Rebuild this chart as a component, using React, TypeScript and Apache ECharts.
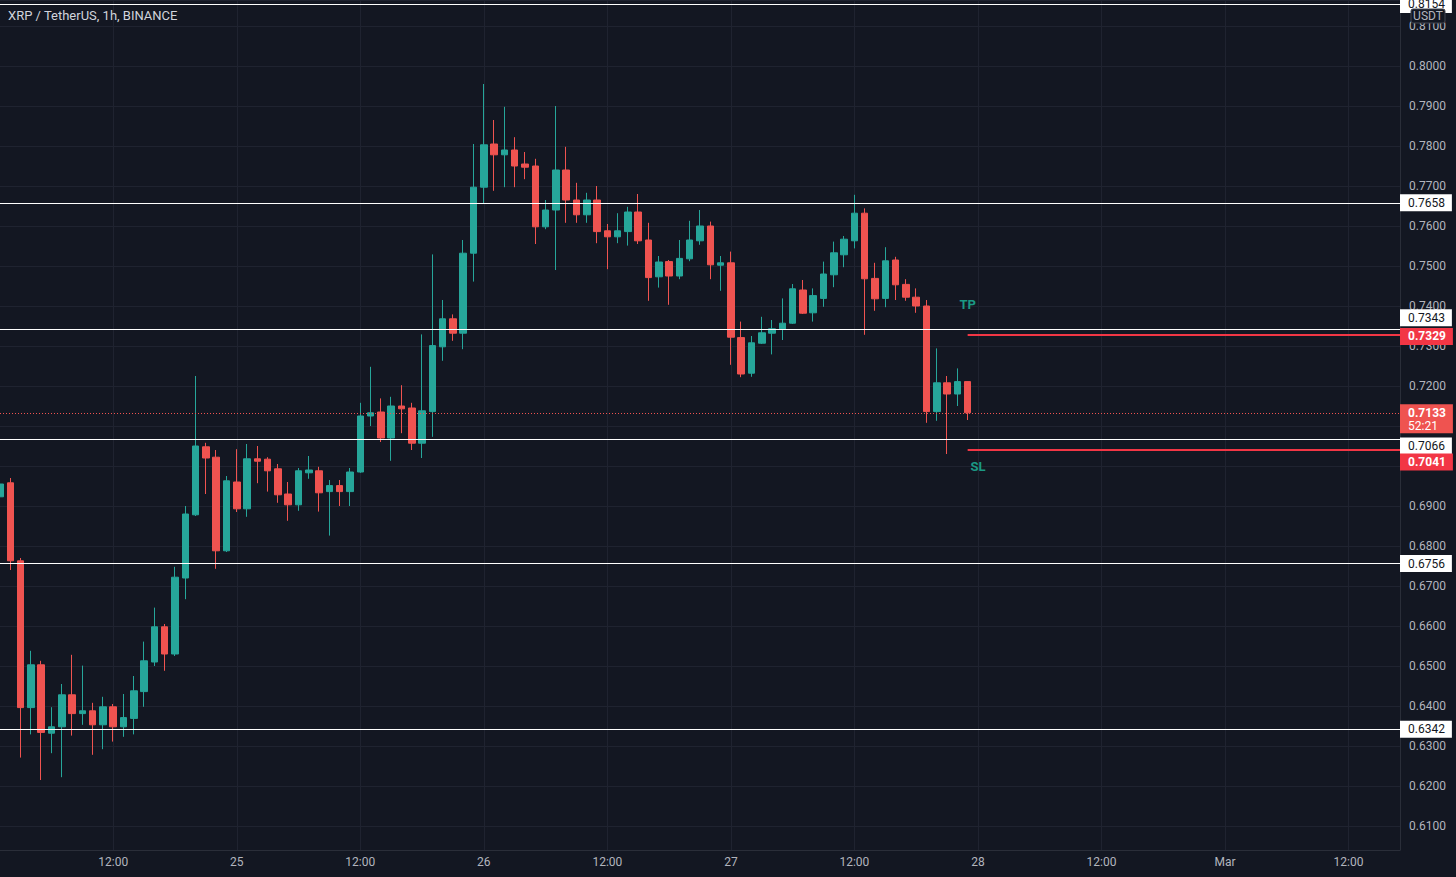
import React, { useEffect, useRef } from "react";
import * as echarts from "echarts";

// ---- data ----
const TITLE = "XRP / TetherUS, 1h, BINANCE";
const DAY_LABELS = ["24", "25", "26", "27", "28", "Mar"];
const HOUR_COUNT = 137; // hourly slots from 24 Feb 01:00
const hours = Array.from({ length: HOUR_COUNT }, (_, i) => String(i + 1));

const opens = [
  0.6923, 0.6958, 0.6763, 0.6396, 0.6503, 0.6332, 0.6348, 0.6428, 0.6381, 0.6388,
  0.6353, 0.6398, 0.6348, 0.6369, 0.6436, 0.6510, 0.6598, 0.6530, 0.6720, 0.6878,
  0.7048, 0.7022, 0.6788, 0.6960, 0.6893, 0.7018, 0.7017, 0.6993, 0.6930, 0.6903,
  0.6983, 0.6988, 0.6936, 0.6951, 0.6936, 0.6985, 0.7125, 0.7135, 0.7070, 0.7150,
  0.7145, 0.7057, 0.7136, 0.7298, 0.7368, 0.7332, 0.7532, 0.7697, 0.7805, 0.7778,
  0.7790, 0.7755, 0.7750, 0.7598, 0.7640, 0.7740, 0.7665, 0.7628, 0.7665, 0.7588,
  0.7573, 0.7586, 0.7635, 0.7565, 0.7473, 0.7511, 0.7475, 0.7518, 0.7563, 0.7600,
  0.7502, 0.7508, 0.7321, 0.7232, 0.7307, 0.7332, 0.7342, 0.7357, 0.7440, 0.7383,
  0.7419, 0.7478, 0.7528, 0.7563, 0.7632, 0.7469, 0.7419, 0.7515, 0.7454, 0.7422,
  0.7400, 0.7136, 0.7208, 0.7180, 0.7211,
];
const highs = [
  0.6965, 0.6970, 0.6770, 0.6538, 0.6513, 0.6397, 0.6455, 0.6528, 0.6501, 0.6408,
  0.6423, 0.6405, 0.6430, 0.6475, 0.6561, 0.6646, 0.6605, 0.6748, 0.6900, 0.7225,
  0.7058, 0.7040, 0.6975, 0.7042, 0.7055, 0.7050, 0.7022, 0.7005, 0.6960, 0.6995,
  0.7025, 0.6998, 0.6965, 0.6965, 0.6995, 0.7158, 0.7248, 0.7169, 0.7173, 0.7202,
  0.7158, 0.7329, 0.7529, 0.7415, 0.7379, 0.7565, 0.7805, 0.7955, 0.7865, 0.7898,
  0.7822, 0.7785, 0.7768, 0.7665, 0.7900, 0.7798, 0.7708, 0.7683, 0.7700, 0.7605,
  0.7632, 0.7648, 0.7680, 0.7608, 0.7525, 0.7515, 0.7565, 0.7613, 0.7640, 0.7611,
  0.7525, 0.7536, 0.7361, 0.7325, 0.7373, 0.7365, 0.7419, 0.7455, 0.7465, 0.7444,
  0.7511, 0.7561, 0.7575, 0.7678, 0.7644, 0.7508, 0.7547, 0.7523, 0.7467, 0.7444,
  0.7415, 0.7294, 0.7225, 0.7244, 0.7212,
];
const lows = [
  0.6915, 0.6740, 0.6271, 0.6329, 0.6215, 0.6282, 0.6222, 0.6326, 0.6353, 0.6278,
  0.6292, 0.6311, 0.6323, 0.6329, 0.6398, 0.6500, 0.6488, 0.6525, 0.6667, 0.6875,
  0.6930, 0.6743, 0.6785, 0.6885, 0.6873, 0.6957, 0.6936, 0.6908, 0.6863, 0.6888,
  0.6968, 0.6886, 0.6826, 0.6900, 0.6900, 0.6983, 0.7100, 0.7060, 0.7013, 0.7082,
  0.7040, 0.7020, 0.7073, 0.7263, 0.7313, 0.7292, 0.7461, 0.7655, 0.7688, 0.7697,
  0.7697, 0.7717, 0.7555, 0.7592, 0.7490, 0.7608, 0.7608, 0.7608, 0.7557, 0.7492,
  0.7557, 0.7551, 0.7555, 0.7413, 0.7446, 0.7403, 0.7467, 0.7512, 0.7553, 0.7467,
  0.7438, 0.7253, 0.7222, 0.7223, 0.7305, 0.7279, 0.7315, 0.7355, 0.7380, 0.7361,
  0.7398, 0.7447, 0.7497, 0.7544, 0.7328, 0.7388, 0.7397, 0.7415, 0.7413, 0.7383,
  0.7108, 0.7113, 0.7030, 0.7150, 0.7115,
];
const closes = [
  0.6955, 0.6763, 0.6396, 0.6503, 0.6334, 0.6348, 0.6428, 0.6381, 0.6388, 0.6353,
  0.6398, 0.6348, 0.6371, 0.6438, 0.6513, 0.6598, 0.6530, 0.6722, 0.6880, 0.7050,
  0.7020, 0.6788, 0.6963, 0.6893, 0.7018, 0.7012, 0.6988, 0.6928, 0.6903, 0.6988,
  0.6990, 0.6933, 0.6951, 0.6936, 0.6985, 0.7125, 0.7133, 0.7070, 0.7150, 0.7143,
  0.7057, 0.7138, 0.7301, 0.7368, 0.7332, 0.7532, 0.7697, 0.7803, 0.7778, 0.7790,
  0.7750, 0.7747, 0.7598, 0.7640, 0.7740, 0.7665, 0.7628, 0.7665, 0.7586, 0.7573,
  0.7588, 0.7635, 0.7563, 0.7471, 0.7510, 0.7475, 0.7519, 0.7565, 0.7600, 0.7503,
  0.7508, 0.7322, 0.7230, 0.7308, 0.7333, 0.7343, 0.7357, 0.7443, 0.7382, 0.7426,
  0.7480, 0.7533, 0.7567, 0.7632, 0.7468, 0.7418, 0.7513, 0.7453, 0.7422, 0.7400,
  0.7136, 0.7208, 0.7180, 0.7211, 0.7133,
];

const levelLines = [0.8154, 0.7658, 0.7343, 0.7066, 0.6756, 0.6342];
const targetLines = [0.7329, 0.7041];
const targetStartHour = "95";
const lastPrice = 0.7133;
const countdown = "52:21";
const notes = [
  { text: "TP", hour: "95", price: 0.7403 },
  { text: "SL", hour: "96", price: 0.6998 },
];
const currency = "USDT";

// ---- styles ----
const BG = "#131722";
const UP = "#26a69a";
const DOWN = "#ef5350";
const RED = "#f23645";
const TEXT = "#b2b5be";
const GRID = "#1f2330";
const AXIS = "#2a2e39";
const FONT = "Roboto, 'Noto Sans', sans-serif";
// vertical nudges of the price-scale tags so they do not overlap
const tagShift: Record<string, number> = {
  "0.7343": -11,
  "0.7329": 2,
  "0.7066": 6.5,
  "0.7041": 12.5,
};

export default function App() {
  const ref = useRef<HTMLDivElement>(null);

  useEffect(() => {
    if (!ref.current) return;
    const chart = echarts.init(ref.current, undefined, { renderer: "svg" });
    const lastCat = hours[hours.length - 1];

    const candleData = opens.map((o, i) => [o, closes[i], lows[i], highs[i]]);

    const boxLabel = (bg: string, color: string, text: string, bold: boolean) => ({
      show: true,
      position: "right",
      distance: 0,
      offset: [0, tagShift[text] || 0],
      formatter: text,
      backgroundColor: bg,
      color,
      fontFamily: FONT,
      fontSize: 12,
      fontWeight: bold ? "bold" : "normal",
      lineHeight: 14,
      padding: [2, 7, 1, 8],
    });

    const markPoints: any[] = [];
    levelLines.forEach((v) =>
      markPoints.push({
        coord: [lastCat, v],
        value: v,
        label: boxLabel("#ffffff", "#131722", v.toFixed(4), false),
      })
    );
    targetLines.forEach((v) =>
      markPoints.push({
        coord: [lastCat, v],
        value: v,
        label: boxLabel(RED, "#ffffff", v.toFixed(4), true),
      })
    );
    markPoints.push({
      coord: [lastCat, lastPrice],
      value: lastPrice,
      label: {
        show: true,
        position: "right",
        distance: 0,
        offset: [0, 6],
        formatter: `{p|${lastPrice.toFixed(4)}}\n{t|${countdown}}`,
        backgroundColor: DOWN,
        padding: [2, 7, 1, 8],
        rich: {
          p: { color: "#fff", fontWeight: "bold", fontSize: 12, fontFamily: FONT, lineHeight: 13 },
          t: { color: "#fff", fontSize: 12, fontFamily: FONT, lineHeight: 13 },
        },
      },
    });
    notes.forEach((n) =>
      markPoints.push({
        coord: [n.hour, n.price],
        value: n.price,
        label: {
          show: true,
          position: "inside",
          formatter: n.text,
          color: "#1b9984",
          fontSize: 13,
          fontWeight: "bold",
          fontFamily: FONT,
        },
      })
    );

    const markLines: any[] = [];
    levelLines.forEach((v) =>
      markLines.push({ yAxis: v, lineStyle: { color: "#ffffff", width: 1.2, type: "solid" } })
    );
    markLines.push({ yAxis: lastPrice, lineStyle: { color: DOWN, width: 1, type: [1, 2] } });
    targetLines.forEach((v) =>
      markLines.push([
        { coord: [targetStartHour, v], lineStyle: { color: RED, width: 2, type: "solid" } },
        { coord: [lastCat, v] },
      ])
    );

    chart.setOption({
      animation: false,
      backgroundColor: BG,
      title: {
        text: TITLE,
        left: 3,
        top: 4,
        textStyle: { color: "#d1d4dc", fontSize: 13, fontWeight: "normal", fontFamily: FONT },
      },
      grid: { left: 0, right: 56, top: 0, bottom: 27 },
      xAxis: {
        type: "category",
        data: hours,
        boundaryGap: false,
        axisLine: { show: true, lineStyle: { color: AXIS } },
        axisTick: { show: false },
        axisLabel: {
          interval: (_i: number, v: string) => +v % 12 === 0,
          formatter: (v: string) => {
            const h = +v;
            if (h % 24 === 12) return "12:00";
            if (h % 24 === 0) return DAY_LABELS[h / 24];
            return "";
          },
          color: TEXT,
          fontSize: 12,
          fontFamily: FONT,
          margin: 6,
        },
        splitLine: {
          show: true,
          interval: (_i: number, v: string) => +v % 12 === 0,
          lineStyle: { color: GRID, width: 1 },
        },
      },
      yAxis: {
        type: "value",
        position: "right",
        min: 0.604,
        max: 0.8165,
        splitNumber: 21,
        minInterval: 0.01,
        maxInterval: 0.01,
        scale: true,
        axisLine: { show: true, lineStyle: { color: AXIS } },
        axisTick: { show: false },
        axisLabel: {
          showMinLabel: false,
          showMaxLabel: false,
          formatter: (v: number) => v.toFixed(4),
          color: TEXT,
          fontSize: 12,
          fontFamily: FONT,
          margin: 9,
        },
        splitLine: { show: true, lineStyle: { color: GRID, width: 1 } },
      },
      series: [
        {
          type: "candlestick",
          data: candleData,
          barWidth: 7,
          itemStyle: {
            color: UP,
            color0: DOWN,
            borderColor: UP,
            borderColor0: DOWN,
            borderWidth: 1,
          },
          markLine: {
            silent: true,
            precision: 4,
            symbol: ["none", "none"],
            label: { show: false },
            data: markLines,
          },
          markPoint: {
            silent: true,
            symbol: "circle",
            symbolSize: 0,
            data: markPoints,
          },
        },
      ],
      graphic: [
        {
          type: "group",
          z: 100,
          children: [
            {
              type: "rect",
              shape: { x: 1411, y: 9, width: 34, height: 14, r: 2 },
              style: { fill: BG, stroke: "#434651", lineWidth: 1 },
              z: 100,
            },
            {
              type: "text",
              x: 1428,
              y: 16,
              style: {
                text: currency,
                fill: TEXT,
                fontSize: 12,
                fontFamily: FONT,
                align: "center",
                verticalAlign: "middle",
              },
              z: 101,
            },
          ],
        },
      ],
    });

    return () => chart.dispose();
  }, []);

  return (
    <div
      ref={ref}
      style={{ position: "fixed", left: 0, top: 0, width: 1456, height: 877 }}
    />
  );
}
